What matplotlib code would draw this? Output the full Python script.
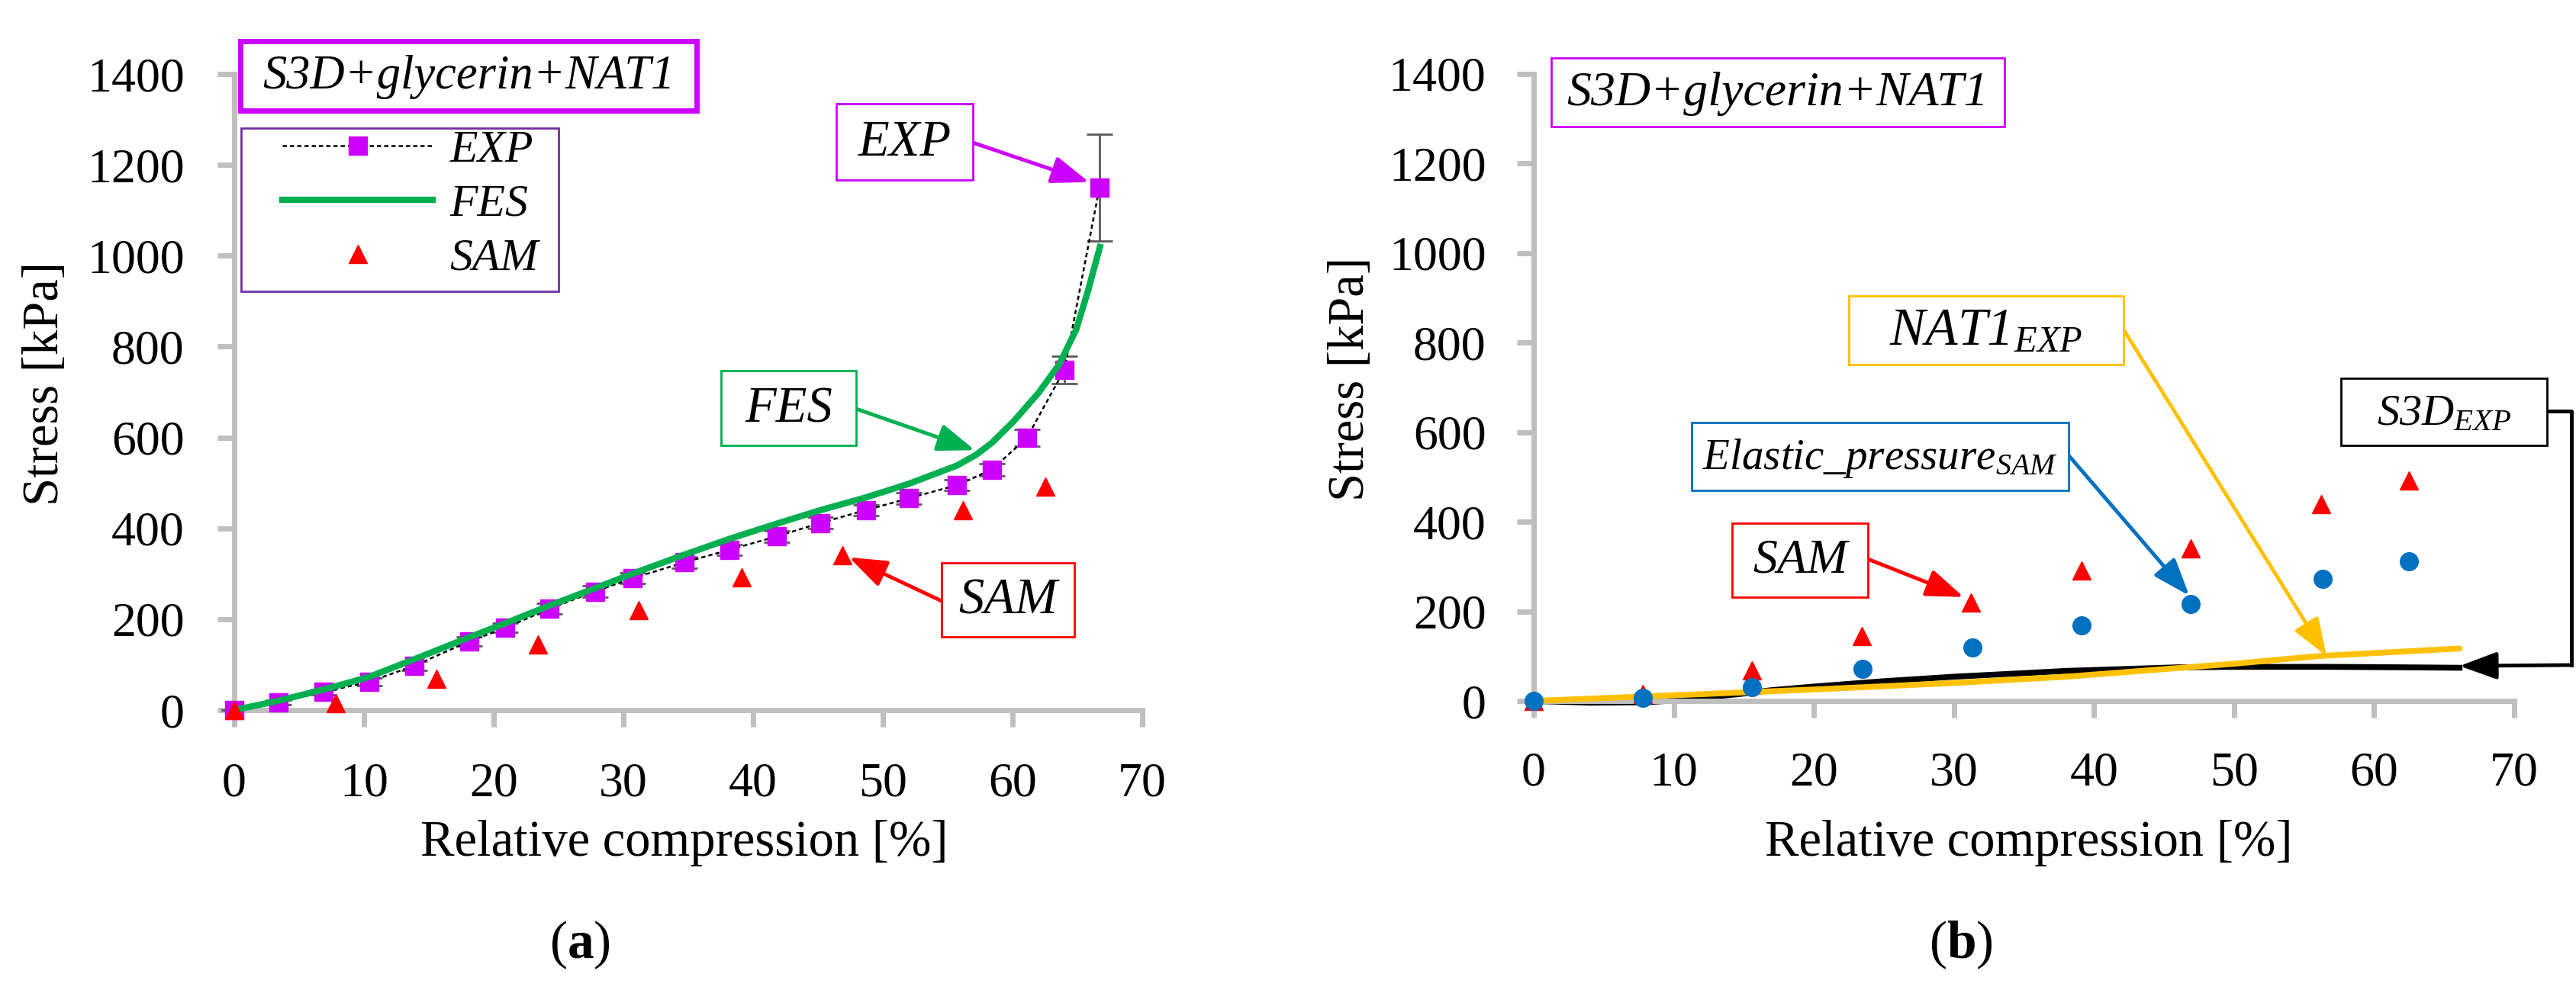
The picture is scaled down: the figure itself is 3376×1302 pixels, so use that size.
import matplotlib
matplotlib.use("Agg")
import matplotlib.pyplot as plt
from matplotlib.patches import Rectangle
from matplotlib.lines import Line2D

plt.rcParams['font.family'] = ['Liberation Serif', 'DejaVu Serif']
plt.rcParams['mathtext.fontset'] = 'custom'
plt.rcParams['mathtext.it'] = 'Liberation Serif:italic'
plt.rcParams['mathtext.rm'] = 'Liberation Serif'
plt.rcParams['mathtext.bf'] = 'Liberation Serif:bold'

# ---------------- data ----------------
exp_x = [0, 3.4, 6.9, 10.4, 13.9, 18.1, 20.9, 24.3, 27.8, 30.7, 34.7, 38.2,
         41.8, 45.2, 48.7, 52.0, 55.7, 58.4, 61.1, 64.0, 66.7]
exp_y = [0, 17, 40, 62, 98, 151, 181, 223, 261, 290, 325, 353,
         382, 412, 440, 466, 495, 529, 599, 749, 1150]
exp_err = [0, 5, 6, 8, 10, 10, 10, 12, 12, 12, 12, 12,
           12, 12, 12, 12, 12, 14, 18, 30, 118]

fes_x = [0, 3.5, 7.4, 10.4, 13.9, 18.1, 20.9, 24.3, 27.8, 30.7, 34.7, 38.2,
         41.8, 45.2, 48.7, 52.0, 55.7, 57.2, 58.4, 60.1, 62.0, 63.6, 64.9, 65.8, 66.8]
fes_y = [0, 21, 49, 73, 112, 160, 191, 230, 268, 300, 342, 377,
         410, 440, 468, 498, 538, 562, 588, 636, 698, 761, 837, 921, 1026]

sam_x = [0, 7.8, 15.6, 23.4, 31.2, 39.1, 46.9, 56.2, 62.5]
sam_y = [0, 15, 68, 145, 220, 292, 341, 440, 492]

elastic_x = [0, 7.8, 15.6, 23.5, 31.3, 39.1, 46.9, 56.3, 62.5]
elastic_y = [0, 7, 31, 71, 119, 168, 216, 272, 311]

nat1_x = [0, 10, 20, 30, 38, 50, 56, 66.1]
nat1_y = [0, 12.5, 25.5, 40, 54, 83, 100, 117]

s3d_x = [0, 4, 8, 10, 12, 14.6, 17, 20, 25, 30, 35, 38, 42, 46, 50, 57, 62, 66.1]
s3d_y = [0, -4, -3, 1, 7, 15, 24, 32, 44, 54, 62, 67, 71, 75, 76, 76, 75, 74]

xticks = [0, 10, 20, 30, 40, 50, 60, 70]
yticks = [0, 200, 400, 600, 800, 1000, 1200, 1400]

MAG = '#CC00FF'
RED = '#FF0000'
GRN = '#00B050'
BLU = '#0070C0'
YEL = '#FFC000'
PUR = '#7030A0'
GREY = '#BFBFBF'

W, H = 3376, 1302
fig = plt.figure(figsize=(W / 100, H / 100), dpi=100)


def fx(px):
    return px / W


def fy(py):
    return 1 - py / H


def style_axes(ax, ypad, xpad):
    ax.set_xlim(0, 70)
    ax.set_ylim(0, 1400)
    ax.set_xticks(xticks)
    ax.set_yticks(yticks)
    for s in ['top', 'right']:
        ax.spines[s].set_visible(False)
    for s in ['left', 'bottom']:
        ax.spines[s].set_color(GREY)
        ax.spines[s].set_linewidth(5)
    ax.tick_params(axis='both', direction='out', length=16, width=5, color=GREY,
                   labelsize=46)
    ax.tick_params(axis='y', pad=ypad)
    ax.tick_params(axis='x', pad=xpad)
    ax.set_facecolor('none')


axL = fig.add_axes([fx(307), fy(931), fx(1497) - fx(307), fy(97) - fy(931)])
axR = fig.add_axes([fx(2010), fy(919), fx(3295) - fx(2010), fy(97) - fy(919)])
style_axes(axL, 31, 33)
style_axes(axR, 29, 32)

# ---------------- left panel ----------------
axL.errorbar(exp_x, exp_y, yerr=exp_err, fmt='none', ecolor='#595959',
             elinewidth=2, capsize=12, capthick=2, zorder=2, clip_on=False)
axL.plot(exp_x, exp_y, color='black', lw=1.8, dashes=(2.2, 1.6), zorder=3,
         clip_on=False)
axL.plot(exp_x, exp_y, ls='none', marker='s', ms=17, color=MAG, zorder=4,
         clip_on=False)
axL.plot(fes_x, fes_y, color=GRN, lw=6, zorder=5, clip_on=False,
         solid_capstyle='butt', solid_joinstyle='round')
axL.plot(sam_x, sam_y, ls='none', marker='^', ms=17, color=RED, zorder=6,
         clip_on=False)

# legend frame + legend
fig.add_artist(Rectangle((fx(316), fy(382)), fx(732) - fx(316), fy(168) - fy(382),
                         transform=fig.transFigure, fc='white', ec=PUR, lw=2,
                         zorder=9))
h_exp = Line2D([], [], color='black', lw=1.8, dashes=(2.2, 1.6), marker='s',
               ms=17, mfc=MAG, mec=MAG)
h_fes = Line2D([], [], color=GRN, lw=6)
h_sam = Line2D([], [], ls='none', marker='^', ms=17, color=RED)
leg = fig.legend([h_exp, h_fes, h_sam], ['EXP', 'FES', 'SAM'],
                 loc='upper left', bbox_to_anchor=(fx(370), fy(170)),
                 frameon=False, handlelength=3.3, handletextpad=0.38,
                 labelspacing=0.27, borderpad=0, borderaxespad=0, numpoints=1,
                 prop={'family': 'Liberation Serif', 'style': 'italic', 'size': 43})
leg.set_zorder(10)

# ---------------- right panel ----------------
axR.plot(nat1_x, nat1_y, color=YEL, lw=5.5, zorder=3, clip_on=False,
         solid_capstyle='round')
axR.plot(s3d_x, s3d_y, color='black', lw=5.5, zorder=2, clip_on=False)
axR.plot(sam_x, sam_y, ls='none', marker='^', ms=17, color=RED, zorder=4,
         clip_on=False)
axR.plot(elastic_x, elastic_y, ls='none', marker='o', ms=17, color=BLU, zorder=5,
         clip_on=False)


# ---------------- boxes / arrows ----------------
def box(px0, py0, px1, py1, ec, lw, text, size, tx=None, ty=None):
    r = Rectangle((fx(px0), fy(py1)), fx(px1) - fx(px0), fy(py0) - fy(py1),
                  transform=fig.transFigure, fc='white', ec=ec, lw=lw, zorder=20)
    fig.add_artist(r)
    cx = (px0 + px1) / 2 if tx is None else tx
    cy = (py0 + py1) / 2 if ty is None else ty
    return fig.text(fx(cx), fy(cy), text, ha='center', va='center', fontsize=size,
                    style='italic', zorder=21)


def arrow(ax, px, py, tip, color, lw=3.5):
    ax.annotate('', xy=tip, xycoords='data', xytext=(fx(px), fy(py)),
                textcoords='figure fraction', annotation_clip=False,
                arrowprops=dict(arrowstyle='-|>,head_length=1.5,head_width=0.55',
                                mutation_scale=20, color=color, lw=lw,
                                shrinkA=0, shrinkB=0), zorder=15)


# left
box(315, 54, 913, 145, MAG, 5, 'S3D+glycerin+NAT1', 45, ty=101)
box(1096, 136, 1275, 236, MAG, 2, 'EXP', 48, ty=188)
box(945, 486, 1122, 584, GRN, 2, 'FES', 48, ty=537)
box(1234, 738, 1408, 835, RED, 2, 'SAM', 48, ty=788)
arrow(axL, 1275, 187, (65.9, 1162), MAG)
arrow(axL, 1122, 536, (57.1, 572), GRN)
arrow(axL, 1234, 788, (47.4, 336), RED)

# right
box(2033, 76, 2627, 166, MAG, 2, 'S3D+glycerin+NAT1', 46, ty=123)
box(2423, 388, 2783, 478, YEL, 2, r'NAT1$_{\mathit{EXP}}$', 50, ty=436)
box(2217, 554, 2711, 643, BLU, 2, r'Elastic_pressure$_{\mathit{SAM}}$', 41, ty=601)
box(2270, 686, 2448, 783, RED, 2, 'SAM', 46, ty=735)
box(3068, 496, 3338, 584, 'black', 2, r'S3D$_{\mathit{EXP}}$', 42, ty=543)
arrow(axR, 2448, 733, (30.7, 232), RED)
arrow(axR, 2711, 597, (46.8, 235), BLU)
arrow(axR, 2783, 432, (56.6, 100), YEL)
fig.add_artist(Line2D([fx(3338), fx(3370), fx(3370)], [fy(539), fy(539), fy(872)],
                      transform=fig.transFigure, color='black', lw=3.5, zorder=15))
arrow(axR, 3370, 872, (66.1, 78), 'black')

# ---------------- labels ----------------
fig.text(fx(60), fy(503), 'Stress [kPa]', rotation=90, ha='center', va='center',
         fontsize=48)
fig.text(fx(1770), fy(497), 'Stress [kPa]', rotation=90, ha='center', va='center',
         fontsize=48)
fig.text(fx(897), fy(1106), 'Relative compression [%]', ha='center', va='center',
         fontsize=48)
fig.text(fx(2659), fy(1105), 'Relative compression [%]', ha='center', va='center',
         fontsize=48)
fig.text(fx(760), fy(1239), r'($\mathbf{a}$)', ha='center', va='center', fontsize=50)
fig.text(fx(2570), fy(1239), r'($\mathbf{b}$)', ha='center', va='center', fontsize=50)

fig.savefig('out.png', dpi=100, facecolor='white')
